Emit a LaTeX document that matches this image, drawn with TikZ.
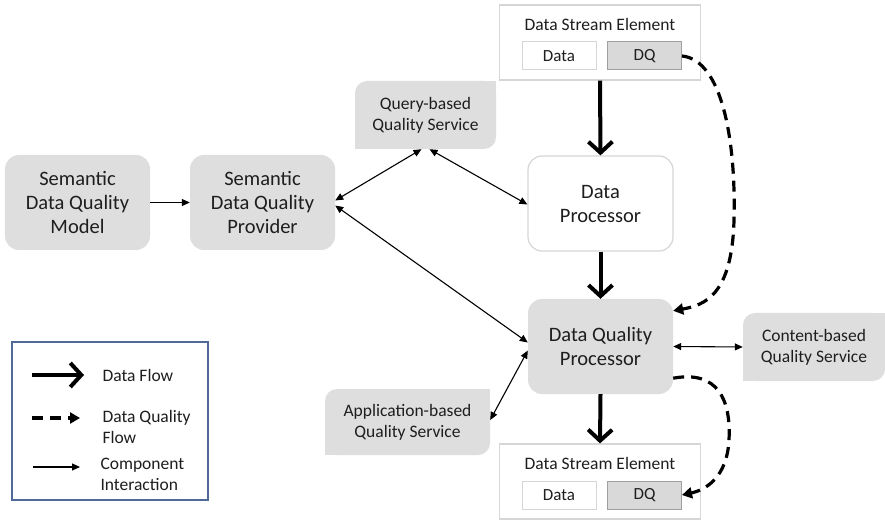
\documentclass[tikz,border=0pt]{standalone}
\usepackage{fontspec}
\setmainfont{Carlito}
\usetikzlibrary{arrows.meta, positioning, calc}
\definecolor{boxgray}{HTML}{DEDEDE}
\definecolor{edgegray}{HTML}{D6D6D6}
\definecolor{dqgray}{HTML}{D9D9D9}
\definecolor{legendblue}{HTML}{4F6A96}
\definecolor{txt}{HTML}{1E1E1E}

\begin{document}
\begin{tikzpicture}[x=1bp, y=-1bp,
      comp/.style={fill=boxgray, rounded corners=14bp, minimum width=145bp, minimum height=95bp, align=center, text=txt, font=\fontsize{20.5bp}{24bp}\selectfont},
      proc/.style={comp, fill=white, draw=edgegray, line width=1.2bp},
      svc/.style={fill=boxgray, rounded corners=12bp, minimum height=68bp, align=center, text=txt, font=\fontsize{17.5bp}{21bp}\selectfont},
      dse/.style={draw=edgegray, line width=1.2bp, minimum width=201bp, minimum height=75bp},
      title/.style={text=txt, font=\fontsize{17.5bp}{19bp}\selectfont},
      field/.style={draw=edgegray, line width=1bp, fill=white, minimum width=74bp, minimum height=28bp, text=txt, font=\fontsize{17bp}{19bp}\selectfont},
      dqfield/.style={field, fill=dqgray, draw=gray!75},
      flow/.style={line width=4bp, -{Straight Barb[length=11bp, width=24bp]}},
      dqflow/.style={line width=3.2bp, dash pattern=on 11bp off 7bp, -{Triangle[length=10bp, width=11bp]}},
      link/.style={line width=1.1bp, -{Triangle[length=8bp, width=7bp]}},
      twoway/.style={line width=1.1bp, {Triangle[length=8bp, width=7bp]}-{Triangle[length=8bp, width=7bp]}},
      legtext/.style={anchor=west, align=left, text=txt, font=\fontsize{17.5bp}{21bp}\selectfont}
    ]
    \useasboundingbox (0,0) rectangle (885,523);
    \fill[white] (0,0) rectangle (885,523);

    % Nodes
    \node[comp] (model) at (77.5,202.5) {Semantic\\Data Quality\\Model};
    \node[comp] (prov) at (262.5,202.5) {Semantic\\Data Quality\\Provider};
    \node[proc] (dproc) at (600.5,203.5) {Data\\Processor};
    \node[comp] (dqp) at (600.5,346.5) {Data Quality\\Processor};
    \node[svc, minimum width=141bp] (query) at (425.5,115) {Query-based\\Quality Service};
    \node[svc, minimum width=142bp] (content) at (814,347) {Content-based\\Quality Service};
    \node[svc, minimum width=165bp, minimum height=66bp] (app) at (407.5,422) {Application-based\\Quality Service};
    \foreach \n in {query, content, app} {
      \fill[boxgray] (\n.north east) rectangle ++(-14,14);
      \fill[boxgray] (\n.south west) rectangle ++(14,-14);
    }

    % Data stream elements
    \node[dse] (intop) at (600,42.5) {};
    \node[title] at (600,24) {Data Stream Element};
    \node[field] (datatop) at (559,56) {Data};
    \node[dqfield] (dqtop) at (644.5,56) {DQ};
    \node[dse] (outbot) at (600,481.5) {};
    \node[title] at (600,463) {Data Stream Element};
    \node[field] (databot) at (559,495) {Data};
    \node[dqfield] (dqbot) at (644.5,495) {DQ};

    % Arrows
    \draw[link] (model) -- (prov);
    \draw[twoway] ($(prov.east)+(0,-2)$) -- ($(query.south)+(-4,0)$);
    \draw[twoway] ($(query.south)+(4,0)$) -- ($(dproc.west)+(0,1)$);
    \draw[twoway] ($(prov.east)+(0,3)$) -- ($(dqp.west)+(0,-4)$);
    \draw[twoway] ($(dqp.west)+(0,4)$) -- ($(app.east)+(0,-2)$);
    \draw[twoway] (dqp.east) -- (content.west);
    \draw[flow] (intop.south) -- (dproc.north);
    \draw[flow] (dproc.south) -- (dqp.north);
    \draw[flow] (dqp.south) -- (outbot.north);
    \draw[dqflow] (dqtop.east) .. controls (722,60) and (736,140) .. (734,220)
        .. controls (732,295) and (705,305) .. ($(dqp.north east)+(0,12)$);
    \draw[dqflow] ($(dqp.south east)+(0,-16)$) .. controls (718,370) and (731,400) .. (729,440)
        .. controls (727,478) and (705,490) .. (dqbot.east);

    % Legend
    \node[draw=legendblue, line width=1.5bp, minimum width=196bp, minimum height=158bp] (legend) at (110,421) {};
    \coordinate (fa) at (32,375);  \coordinate (fb) at (84,375);
    \coordinate (qa) at (32,418);  \coordinate (qb) at (80,418);
    \coordinate (ca) at (33,467);  \coordinate (cb) at (80,467);
    \draw[flow] (fa) -- (fb);
    \draw[dqflow] (qa) -- (qb);
    \draw[link] (ca) -- (cb);
    \node[legtext] at (99,375) {Data Flow};
    \node[legtext] at (99,427) {Data Quality\\Flow};
    \node[legtext] at (97,474) {Component\\Interaction};

    \end{tikzpicture}
\end{document}
